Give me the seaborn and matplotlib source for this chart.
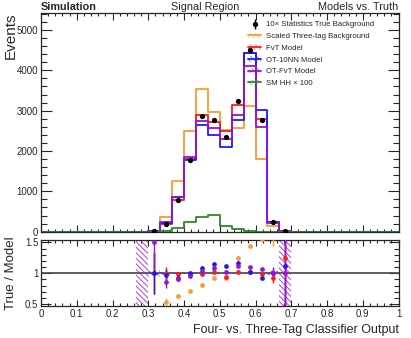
import numpy as np
import pandas as pd
import matplotlib
matplotlib.use("Agg")
import matplotlib.pyplot as plt
import seaborn as sns
from matplotlib.lines import Line2D
from matplotlib.patches import Patch
from matplotlib.ticker import MultipleLocator, FormatStrFormatter

# ---------------- data (30 bins on [0, 1]) ----------------
n_bins = 30
x_range = (0.0, 1.0)

true_bg = [0, 0, 0, 0, 0, 0, 0, 0, 0,
           12, 200, 780, 1780, 2860, 2760, 2350, 3240, 4500, 2780, 230, 10,
           0, 0, 0, 0, 0, 0, 0, 0, 0]
true_err = [0, 0, 0, 0, 0, 0, 0, 0, 0,
            4, 20, 30, 40, 50, 50, 45, 55, 65, 50, 20, 12,
            0, 0, 0, 0, 0, 0, 0, 0, 0]
three_tag = [0, 0, 0, 0, 0, 0, 0, 0, 0,
             12, 370, 1250, 2500, 3530, 2970, 2530, 2580, 3120, 1790, 145, 0,
             0, 0, 0, 0, 0, 0, 0, 0, 0]
fvt = [0, 0, 0, 0, 0, 0, 0, 0, 0,
       12, 200, 795, 1790, 2890, 2710, 2500, 3150, 4440, 2790, 250, 8,
       0, 0, 0, 0, 0, 0, 0, 0, 0]
ot10nn = [0, 0, 0, 0, 0, 0, 0, 0, 0,
          12, 206, 850, 1770, 2650, 2400, 2100, 2770, 4420, 3020, 230, 9,
          0, 0, 0, 0, 0, 0, 0, 0, 0]
otfvt = [0, 0, 0, 0, 0, 0, 0, 0, 0,
         8, 235, 860, 1860, 2740, 2560, 2290, 2890, 4110, 2600, 228, 10,
         0, 0, 0, 0, 0, 0, 0, 0, 0]
sm_hh = [0, 0, 0, 0, 0, 0, 0, 0, 0,
         0, 15, 85, 250, 375, 405, 130, 55, 15, 0, 0, 0,
         0, 0, 0, 0, 0, 0, 0, 0, 0]
# relative model uncertainties shown as hatched bands in the ratio panel
otfvt_unc = [0, 0, 0, 0, 0, 0, 0, 0, 1.0,
             0.03, 0.02, 0.01, 0.01, 0.01, 0.01, 0.01, 0.01, 0.01, 0.01, 0.03, 1.0,
             0, 0, 0, 0, 0, 0, 0, 0, 0]
ot10nn_unc = [0, 0, 0, 0, 0, 0, 0, 0, 0,
              0.06, 0.02, 0.01, 0.01, 0.01, 0.01, 0.01, 0.01, 0.01, 0.01, 0.03, 0,
              0, 0, 0, 0, 0, 0, 0, 0, 0]

labels = ["10\u00d7 Statistics True Background", "Scaled Three-tag Background",
          "FvT Model", "OT-10NN Model", "OT-FvT Model", "SM HH \u00d7 100"]
colors = {"three": "#ff9a2e", "fvt": "#ff1a1a", "ot10": "#1a1aff",
          "otfvt": "#9a12d4", "hh": "#2a8a2a"}

x_ticks_major = 0.1
ratio_ylim = (0.47, 1.54)
events_ylim = (0, 5430)

# ---------------- figure ----------------
sns.set_style("ticks")
plt.rcParams["font.family"] = ["Liberation Sans", "DejaVu Sans"]
plt.rcParams["hatch.linewidth"] = 0.7

edges = np.linspace(x_range[0], x_range[1], n_bins + 1)
centers = 0.5 * (edges[:-1] + edges[1:])
df = pd.DataFrame({"x": centers, "true": true_bg, "err": true_err,
                   "three": three_tag, "fvt": fvt, "ot10": ot10nn,
                   "otfvt": otfvt, "hh": sm_hh})

fig = plt.figure(figsize=(4.11, 3.38), dpi=100)
ax = fig.add_axes([0.0998, 0.3145, 0.870, 0.648])
rax = fig.add_axes([0.0998, 0.0947, 0.870, 0.1953])

for key in ["three", "fvt", "ot10", "otfvt", "hh"]:
    sns.histplot(data=df, x="x", weights=key, bins=n_bins, binrange=x_range,
                 element="step", fill=False, color=colors[key],
                 linewidth=1.3, ax=ax)

m = df["true"] > 0
ax.errorbar(df.loc[m, "x"], df.loc[m, "true"], yerr=df.loc[m, "err"],
            fmt="o", ms=2.8, color="black", elinewidth=1.0, capsize=0, zorder=5)

ax.set_xlim(*x_range)
ax.set_ylim(*events_ylim)
ax.set_xlabel("")
ax.set_ylabel("Events", loc="top", fontsize=11)
ax.xaxis.set_major_locator(MultipleLocator(x_ticks_major))
ax.xaxis.set_minor_locator(MultipleLocator(x_ticks_major / 5))
ax.yaxis.set_major_locator(MultipleLocator(1000))
ax.yaxis.set_minor_locator(MultipleLocator(200))
ax.tick_params(labelbottom=False)

ax.text(0.0, 1.012, "Simulation", transform=ax.transAxes, fontsize=7.8,
        fontweight="bold", ha="left", va="baseline")
ax.text(0.459, 1.012, "Signal Region", transform=ax.transAxes, fontsize=7.8,
        ha="center", va="baseline")
ax.text(1.0, 1.012, "Models vs. Truth", transform=ax.transAxes, fontsize=7.8,
        ha="right", va="baseline")

# legend
hatch = "\\\\\\\\\\\\"
handles = [(Line2D([], [], marker="|", ms=7, color="black", ls="", mew=1.0),
            Line2D([], [], marker="o", ms=2.8, color="black", ls=""))]
for key in ["three", "fvt", "ot10", "otfvt", "hh"]:
    handles.append((Patch(facecolor="none", edgecolor=colors[key], hatch=hatch,
                          linewidth=0, alpha=0.5),
                    Line2D([], [], color=colors[key], lw=1.3)))
ax.legend(handles, labels, loc="upper left", bbox_to_anchor=(0.58, 0.962),
          frameon=False, fontsize=5.6, borderaxespad=0, borderpad=0,
          handlelength=1.6, handletextpad=0.6, labelspacing=0.55)

# ---------------- ratio panel ----------------
rax.axhline(1.0, color="#444444", lw=1.2, zorder=1)
for unc, key in [(otfvt_unc, "otfvt"), (ot10nn_unc, "ot10")]:
    u = np.append(unc, unc[-1])
    rax.fill_between(edges, 1 - u, 1 + u, step="post", facecolor="none",
                     edgecolor=colors[key], hatch=hatch, linewidth=0,
                     alpha=0.8 if key == "otfvt" else 0.35, zorder=2)

for key in ["three", "fvt", "ot10", "otfvt"]:
    mm = (df[key] > 0) & (df["true"] > 0)
    r = df.loc[mm, "true"] / df.loc[mm, key]
    re = df.loc[mm, "err"] / df.loc[mm, key]
    rax.errorbar(df.loc[mm, "x"], r, yerr=re, fmt="o", ms=2.4,
                 color=colors[key], elinewidth=1.0, capsize=0, zorder=4)

rax.set_xlim(*x_range)
rax.set_ylim(*ratio_ylim)
rax.set_ylabel("True / Model", fontsize=9.5)
rax.set_xlabel("Four- vs. Three-Tag Classifier Output", loc="right", fontsize=9)
rax.xaxis.set_major_locator(MultipleLocator(x_ticks_major))
rax.xaxis.set_minor_locator(MultipleLocator(x_ticks_major / 5))
rax.xaxis.set_major_formatter(FormatStrFormatter("%g"))
rax.yaxis.set_major_locator(MultipleLocator(0.5))
rax.yaxis.set_minor_locator(MultipleLocator(0.1))
rax.yaxis.set_major_formatter(FormatStrFormatter("%g"))

for a in (ax, rax):
    a.tick_params(which="both", direction="in", top=True, right=True,
                  labelsize=7, width=0.8, pad=2)
    for s in a.spines.values():
        s.set_linewidth(0.9)
ax.tick_params(axis="y", which="major", length=8)
ax.tick_params(axis="y", which="minor", length=4)
ax.tick_params(axis="x", which="major", length=5)
ax.tick_params(axis="x", which="minor", length=2.5)
rax.tick_params(axis="y", which="major", length=7)
rax.tick_params(axis="y", which="minor", length=3.5)
rax.tick_params(axis="x", which="major", length=4)
rax.tick_params(axis="x", which="minor", length=2)
ax.yaxis.set_label_coords(-0.066, 1.0)
rax.yaxis.set_label_coords(-0.066, 0.5)

fig.savefig("out.png", dpi=100)
